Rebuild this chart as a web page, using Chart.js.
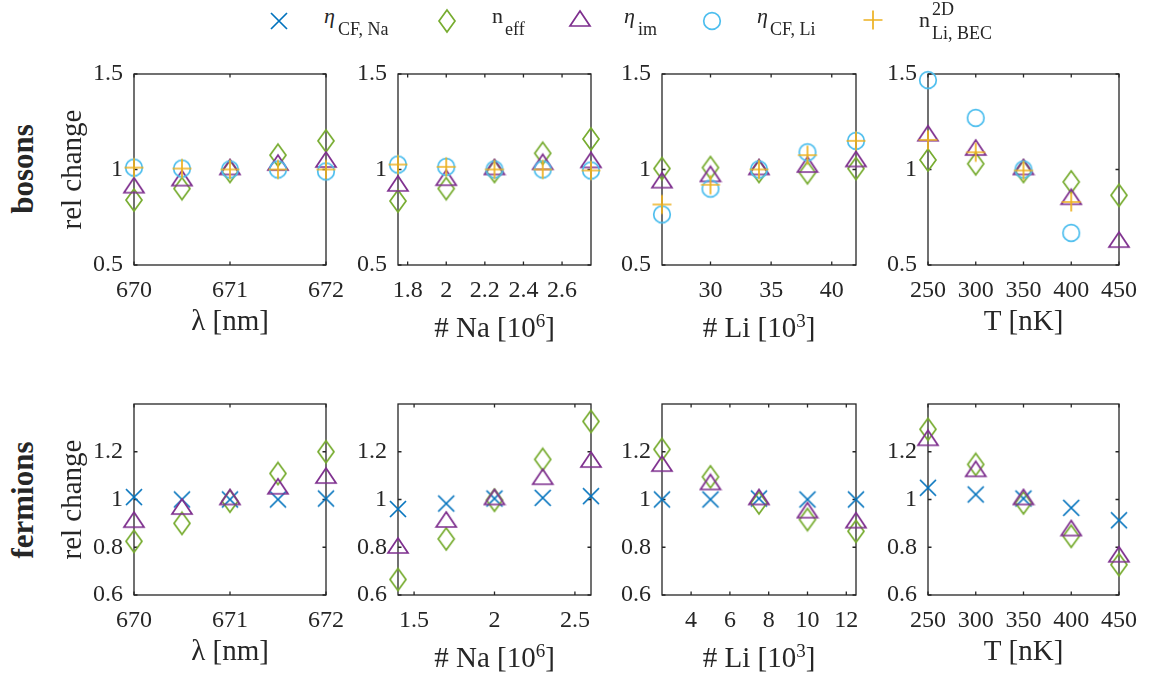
<!DOCTYPE html>
<html><head><meta charset="utf-8">
<script src="https://cdn.jsdelivr.net/npm/chart.js@4.4.1/dist/chart.umd.min.js"></script>
<style>
html,body{margin:0;padding:0;background:#fff;}
#wrap{position:relative;width:1150px;height:679px;overflow:hidden;font-family:"Liberation Serif","Times New Roman",serif;color:#262626;}
#wrap canvas{position:absolute;}
.lt{position:absolute;white-space:nowrap;line-height:1;}
.rowlab{position:absolute;font-weight:bold;font-size:31px;line-height:1;white-space:nowrap;transform:translate(-50%,-50%) rotate(-90deg);}
</style></head><body><div id="wrap"></div>
<script>
// ---------- data ----------
const xLambda = [670, 670.5, 671, 671.5, 672];
const xNaBos  = [1.75, 2.0, 2.25, 2.5, 2.75];
const xLiBos  = [26, 30, 34, 38, 42];
const xTemp   = [250, 300, 350, 400, 450];
const xNaFer  = [1.4, 1.7, 2.0, 2.3, 2.6];
const xLiFer  = [2.5, 5, 7.5, 10, 12.5];

// bosons
const bosLam_neff  = [0.84, 0.90, 0.99, 1.075, 1.15];
const bosLam_etaIm = [0.905, 0.942, 1.0, 1.023, 1.039];
const bosLam_etaLi = [1.01, 1.005, 1.0, 1.0, 0.99];
const bosLam_n2D   = [1.01, 1.005, 1.0, 1.0, 1.0];

const bosNa_neff  = [0.835, 0.90, 0.99, 1.085, 1.16];
const bosNa_etaIm = [0.914, 0.944, 1.0, 1.027, 1.037];
const bosNa_etaLi = [1.026, 1.014, 1.0, 1.0, 0.995];
const bosNa_n2D   = [1.026, 1.014, 1.0, 1.0, 0.995];

const bosLi_neff  = [1.005, 1.01, 0.99, 0.983, 1.005];
const bosLi_etaIm = [0.931, 0.964, 1.0, 1.013, 1.042];
const bosLi_etaLi = [0.765, 0.90, 1.0, 1.09, 1.15];
const bosLi_n2D   = [0.817, 0.92, 1.0, 1.075, 1.15];

const bosT_neff  = [1.05, 1.03, 0.99, 0.935, 0.865];
const bosT_etaIm = [1.177, 1.102, 1.0, 0.844, 0.62];
const bosT_etaLi = [1.468, 1.27, 1.0, 0.668, null];
const bosT_n2D   = [1.155, 1.09, 0.995, 0.83, null];

// fermions
const ferLam_etaNa = [1.01, 1.0, 1.0, 1.0, 1.004];
const ferLam_neff  = [0.825, 0.90, 0.993, 1.109, 1.2];
const ferLam_etaIm = [0.905, 0.96, 1.0, 1.045, 1.09];

const ferNa_etaNa = [0.96, 0.983, 1.004, 1.007, 1.014];
const ferNa_neff  = [0.665, 0.835, 0.997, 1.168, 1.327];
const ferNa_etaIm = [0.797, 0.906, 1.0, 1.085, 1.157];

const ferLi_etaNa = [1.0, 1.0, 1.004, 1.0, 1.0];
const ferLi_neff  = [1.21, 1.095, 0.986, 0.916, 0.867];
const ferLi_etaIm = [1.14, 1.063, 1.0, 0.945, 0.903];

const ferT_etaNa = [1.049, 1.021, 1.004, 0.965, 0.913];
const ferT_neff  = [1.294, 1.147, 0.986, 0.846, 0.727];
const ferT_etaIm = [1.248, 1.118, 1.0, 0.87, 0.76];

// tick values / labels
const xtLam = [670, 671, 672];           const xlLam = ['670', '671', '672'];
const xtNaBos = [1.8, 2, 2.2, 2.4, 2.6]; const xlNaBos = ['1.8', '2', '2.2', '2.4', '2.6'];
const xtLiBos = [30, 35, 40];            const xlLiBos = ['30', '35', '40'];
const xtTemp = [250, 300, 350, 400, 450]; const xlTemp = ['250', '300', '350', '400', '450'];
const xtNaFer = [1.5, 2, 2.5];           const xlNaFer = ['1.5', '2', '2.5'];
const xtLiFer = [4, 6, 8, 10, 12];       const xlLiFer = ['4', '6', '8', '10', '12'];
const ytBos = [0.5, 1, 1.5];             const ylBos = ['0.5', '1', '1.5'];
const ytFer = [0.6, 0.8, 1, 1.2];        const ylFer = ['0.6', '0.8', '1', '1.2'];

// axis titles: [text, isSuperscript]
const xTitles = [
  [['\u03bb [nm]', 0]],
  [['# Na [10', 0], ['6', 1], [']', 0]],
  [['# Li [10', 0], ['3', 1], [']', 0]],
  [['T [nK]', 0]]
];
const yTitle = 'rel change';
const rowLabels = ['bosons', 'fermions'];

// ---------- styles ----------
const FONT = '"Liberation Serif", "Times New Roman", serif';
const AX = '#262626';
const STY = {
  etaNa: {color: '#0072BD', marker: 'x'},
  neff:  {color: '#77AC30', marker: 'diamond'},
  etaIm: {color: '#7E2F8E', marker: 'triangle'},
  etaLi: {color: '#4DBEEE', marker: 'circle'},
  n2D:   {color: '#EDB120', marker: 'plus'}
};
const ORDER = ['etaNa', 'neff', 'etaIm', 'etaLi', 'n2D'];

function makeMarker(type, color) {
  const c = document.createElement('canvas');
  let w = 22, h = 22;
  if (type === 'diamond') { w = 20; h = 26; }
  if (type === 'triangle') { w = 24; h = 24; }
  c.width = w; c.height = h;
  const g = c.getContext('2d');
  g.strokeStyle = color; g.lineWidth = 1.7; g.lineJoin = 'miter';
  const cx = w / 2, cy = h / 2;
  g.beginPath();
  if (type === 'x') {
    const a = 8;
    g.moveTo(cx - a, cy - a); g.lineTo(cx + a, cy + a);
    g.moveTo(cx - a, cy + a); g.lineTo(cx + a, cy - a);
  } else if (type === 'diamond') {
    g.moveTo(cx, cy - 11); g.lineTo(cx + 8, cy); g.lineTo(cx, cy + 11); g.lineTo(cx - 8, cy); g.closePath();
  } else if (type === 'triangle') {
    g.moveTo(cx, cy - 10); g.lineTo(cx + 10, cy + 5); g.lineTo(cx - 10, cy + 5); g.closePath();
  } else if (type === 'circle') {
    g.arc(cx, cy, 8.3, 0, Math.PI * 2);
  } else if (type === 'plus') {
    const a = 9.5;
    g.moveTo(cx - a, cy); g.lineTo(cx + a, cy);
    g.moveTo(cx, cy - a); g.lineTo(cx, cy + a);
  }
  g.stroke();
  return c;
}
const MARK = {};
ORDER.forEach(k => MARK[k] = makeMarker(STY[k].marker, STY[k].color));

// ---------- panels ----------
const colL = [134, 398, 662, 928];
const colW = [192, 193, 194, 191];
const rowT = [74, 404];
const PH = 191;

const panels = [
  {r: 0, c: 0, x: xLambda, xr: [670, 672], xt: xtLam, xl: xlLam, series: {neff: bosLam_neff, etaIm: bosLam_etaIm, etaLi: bosLam_etaLi, n2D: bosLam_n2D}},
  {r: 0, c: 1, x: xNaBos, xr: [1.75, 2.75], xt: xtNaBos, xl: xlNaBos, series: {neff: bosNa_neff, etaIm: bosNa_etaIm, etaLi: bosNa_etaLi, n2D: bosNa_n2D}},
  {r: 0, c: 2, x: xLiBos, xr: [26, 42], xt: xtLiBos, xl: xlLiBos, series: {neff: bosLi_neff, etaIm: bosLi_etaIm, etaLi: bosLi_etaLi, n2D: bosLi_n2D}},
  {r: 0, c: 3, x: xTemp, xr: [250, 450], xt: xtTemp, xl: xlTemp, series: {neff: bosT_neff, etaIm: bosT_etaIm, etaLi: bosT_etaLi, n2D: bosT_n2D}},
  {r: 1, c: 0, x: xLambda, xr: [670, 672], xt: xtLam, xl: xlLam, series: {etaNa: ferLam_etaNa, neff: ferLam_neff, etaIm: ferLam_etaIm}},
  {r: 1, c: 1, x: xNaFer, xr: [1.4, 2.6], xt: xtNaFer, xl: xlNaFer, series: {etaNa: ferNa_etaNa, neff: ferNa_neff, etaIm: ferNa_etaIm}},
  {r: 1, c: 2, x: xLiFer, xr: [2.5, 12.5], xt: xtLiFer, xl: xlLiFer, series: {etaNa: ferLi_etaNa, neff: ferLi_neff, etaIm: ferLi_etaIm}},
  {r: 1, c: 3, x: xTemp, xr: [250, 450], xt: xtTemp, xl: xlTemp, series: {etaNa: ferT_etaNa, neff: ferT_neff, etaIm: ferT_etaIm}}
];
const yCfg = [{yr: [0.5, 1.5], yt: ytBos, yl: ylBos}, {yr: [0.6, 1.4], yt: ytFer, yl: ylFer}];

const boxPlugin = {
  id: 'box',
  beforeDatasetsDraw(chart) {
    const {ctx, chartArea: a, scales} = chart;
    const TL = 3.5;
    ctx.save();
    ctx.strokeStyle = AX; ctx.lineWidth = 1.3;
    ctx.strokeRect(a.left, a.top, a.right - a.left, a.bottom - a.top);
    ctx.beginPath();
    scales.x.ticks.forEach(t => {
      const p = scales.x.getPixelForValue(t.value);
      ctx.moveTo(p, a.bottom); ctx.lineTo(p, a.bottom - TL);
      ctx.moveTo(p, a.top); ctx.lineTo(p, a.top + TL);
    });
    scales.y.ticks.forEach(t => {
      const p = scales.y.getPixelForValue(t.value);
      ctx.moveTo(a.left, p); ctx.lineTo(a.left + TL, p);
      ctx.moveTo(a.right, p); ctx.lineTo(a.right - TL, p);
    });
    ctx.stroke();
    ctx.restore();
  },
  afterDraw(chart) {
    const parts = chart.options.plugins.box.title;
    if (!parts) return;
    const {ctx, chartArea: a} = chart;
    const hasSup = parts.some(p => p[1]);
    const base = a.bottom + 65 + (hasSup ? 7 : 0);
    const mainF = '29px ' + FONT, supF = '19px ' + FONT;
    ctx.save();
    ctx.fillStyle = AX; ctx.textBaseline = 'alphabetic'; ctx.textAlign = 'left';
    let total = 0;
    parts.forEach(p => { ctx.font = p[1] ? supF : mainF; total += ctx.measureText(p[0]).width; });
    let x = (a.left + a.right) / 2 - total / 2;
    parts.forEach(p => {
      ctx.font = p[1] ? supF : mainF;
      ctx.fillText(p[0], x, p[1] ? base - 10 : base);
      x += ctx.measureText(p[0]).width;
    });
    ctx.restore();
  }
};

const wrap = document.getElementById('wrap');
const ML = 78, MR = 28, MT = 16, MB = 90;

panels.forEach(p => {
  const W = colW[p.c], L = colL[p.c], T = rowT[p.r];
  const yc = yCfg[p.r];
  const cv = document.createElement('canvas');
  cv.width = ML + W + MR; cv.height = MT + PH + MB;
  cv.style.width = cv.width + 'px'; cv.style.height = cv.height + 'px';
  wrap.appendChild(cv);
  const keys = ORDER.filter(k => p.series[k]);
  const datasets = keys.map((k, i) => ({
    label: k,
    data: p.x.map((xv, j) => ({x: xv, y: p.series[k][j]})).filter(d => d.y !== null),
    pointStyle: MARK[k],
    pointRadius: 8,
    showLine: false,
    clip: false,
    order: keys.length - i
  }));
  const ch = new Chart(cv, {
    type: 'scatter',
    data: {datasets},
    options: {
      responsive: false, maintainAspectRatio: false, animation: false, devicePixelRatio: 1,
      layout: {padding: {top: MT, right: MR, left: 0, bottom: 0}},
      plugins: {legend: {display: false}, tooltip: {enabled: false}, box: {title: xTitles[p.c]}},
      scales: {
        x: {
          type: 'linear', min: p.xr[0], max: p.xr[1],
          grid: {display: false, drawTicks: false}, border: {display: false},
          afterBuildTicks: s => { s.ticks = p.xt.map(v => ({value: v})); },
          ticks: {autoSkip: false, maxRotation: 0, minRotation: 0, padding: 11, color: AX,
                  font: {family: FONT, size: 24}, callback: (v, i) => p.xl[i]},
          title: {display: false},
          afterFit: s => { s.height = MB; s.paddingLeft = 0; s.paddingRight = 0; }
        },
        y: {
          type: 'linear', min: yc.yr[0], max: yc.yr[1],
          grid: {display: false, drawTicks: false}, border: {display: false},
          afterBuildTicks: s => { s.ticks = yc.yt.map(v => ({value: v})); },
          ticks: {autoSkip: false, padding: 11, color: AX,
                  font: {family: FONT, size: 24}, callback: (v, i) => yc.yl[i]},
          title: {display: p.c === 0, text: yTitle, color: AX, font: {family: FONT, size: 29}, padding: 0},
          afterFit: s => { s.width = ML; s.paddingTop = 0; s.paddingBottom = 0; }
        }
      }
    },
    plugins: [boxPlugin]
  });
  // make the plot area exactly the intended size and place it
  for (let k = 0; k < 2; k++) {
    const a = ch.chartArea;
    const dw = Math.round(W - (a.right - a.left)), dh = Math.round(PH - (a.bottom - a.top));
    if (dw === 0 && dh === 0) break;
    ch.resize(cv.width + dw, cv.height + dh);
  }
  const a = ch.chartArea;
  cv.style.left = (L - a.left) + 'px'; cv.style.top = (T - a.top) + 'px';
});

// ---------- row labels ----------
[[22, 169], [22, 500]].forEach((pos, i) => {
  const d = document.createElement('div');
  d.className = 'rowlab';
  d.style.left = pos[0] + 'px'; d.style.top = pos[1] + 'px';
  d.textContent = rowLabels[i];
  wrap.appendChild(d);
});

// ---------- legend ----------
const legendMarkers = [['etaNa', 279, 21], ['neff', 447, 21], ['etaIm', 580, 20.5], ['etaLi', 712, 21], ['n2D', 873, 20]];
legendMarkers.forEach(([k, cx, cy]) => {
  const m = makeMarker(STY[k].marker, STY[k].color);
  m.style.left = (cx - m.width / 2) + 'px'; m.style.top = (cy - m.height / 2) + 'px';
  wrap.appendChild(m);
});
function addText(txt, x, base, size, italic) {
  const s = document.createElement('span');
  s.className = 'lt';
  s.textContent = txt;
  s.style.fontSize = size + 'px';
  if (italic) s.style.fontStyle = 'italic';
  s.style.left = x + 'px';
  s.style.top = (base - 0.8375 * size) + 'px';
  wrap.appendChild(s);
}
addText('\u03b7', 324, 23, 22, true);  addText('CF, Na', 338, 35, 18);
addText('n', 492, 23, 22);             addText('eff', 505, 35, 18);
addText('\u03b7', 624, 23, 22, true);  addText('im', 638, 35, 18);
addText('\u03b7', 757, 23, 22, true);  addText('CF, Li', 770, 35, 18);
addText('n', 919, 27, 22);             addText('2D', 932, 15, 18); addText('Li, BEC', 932, 39, 18);
</script></body></html>
